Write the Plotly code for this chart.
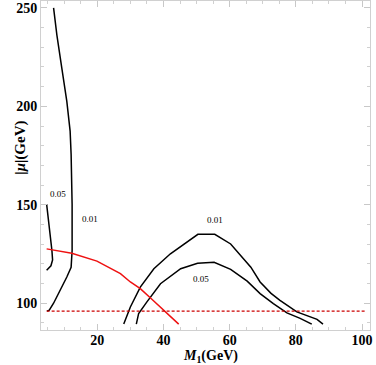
import plotly.graph_objects as go

# Contour 0.01 (left branch)
c01_left_x = [6.8, 7.8, 9.3, 10.8, 11.8, 12.1, 12.4, 12.4, 12.1, 10.8, 6.8, 5.5, 4.8]
c01_left_y = [250, 236.2, 219.3, 202.5, 187.4, 175.6, 150.3, 126.8, 118.2, 113.3, 100, 96.5, 96.0]

# Contour 0.05 (left branch)
c05_left_x = [4.7, 5.6, 6.3, 6.5, 6.0, 4.7]
c05_left_y = [150.3, 138, 126.8, 122, 119, 116.7]

# Contour 0.01 (right branch)
c01_right_x = [28.0, 30.0, 33.0, 37.1, 42.1, 47.2, 50.4, 55.5, 60.3, 66.4, 69.2, 72.5, 75.2, 80.3, 86.4, 88.2]
c01_right_y = [89.4, 98.1, 108.2, 117.5, 125.1, 131.0, 135.0, 135.0, 130.1, 118.3, 110.8, 105.0, 101.5, 95.6, 91.8, 89.4]

# Contour 0.05 (right branch)
c05_right_x = [31.8, 32.5, 35.0, 39.1, 45.2, 50.3, 55.3, 60.3, 65.3, 69.2, 73.2, 77.3, 81.3, 84.8]
c05_right_y = [89.4, 94.8, 100.7, 109.9, 117.5, 120.3, 120.8, 117.2, 111.2, 104.9, 99.8, 95.1, 92.3, 89.4]

# Red solid curve
red_x = [4.7, 6.8, 12.3, 19.9, 24.9, 27.0, 30.0, 33.0, 36.5, 40.1, 44.6]
red_y = [127.6, 127.1, 125.4, 121.4, 116.7, 115.0, 110.8, 107.4, 102.0, 96.5, 89.4]

# Red dashed bound
bound_x = [4.7, 100.8]
bound_y = [96.0, 96.0]

# Contour labels
label_text = ["0.05", "0.01", "0.01", "0.05"]
label_x = [8.1, 17.9, 55.5, 51.4]
label_y = [155.7, 142.8, 142.4, 112.1]

x_ticks = [20, 40, 60, 80, 100]
y_ticks = [100, 150, 200, 250]

FONT = "Liberation Serif"

fig = go.Figure()
for xs, ys in [(c01_left_x, c01_left_y), (c05_left_x, c05_left_y),
               (c01_right_x, c01_right_y), (c05_right_x, c05_right_y)]:
    fig.add_trace(go.Scatter(x=xs, y=ys, mode="lines",
                             line=dict(color="black", width=1.5), showlegend=False))
fig.add_trace(go.Scatter(x=red_x, y=red_y, mode="lines",
                         line=dict(color="#ee1111", width=1.5), showlegend=False))
fig.add_trace(go.Scatter(x=bound_x, y=bound_y, mode="lines",
                         line=dict(color="#cc0000", width=1.2, dash="3px,2px"), showlegend=False))

for t, x, y in zip(label_text, label_x, label_y):
    fig.add_annotation(x=x, y=y, text=t, showarrow=False,
                       font=dict(family=FONT, size=9, color="black"))

fig.add_annotation(xref="paper", yref="paper", x=0.515, y=-0.082, yanchor="middle",
                   text="<i>M</i><sub>1</sub>(GeV)", showarrow=False,
                   font=dict(family=FONT, size=14, color="black", weight="bold"))
fig.add_annotation(xref="paper", yref="paper", x=-0.095, y=0.555,
                   text="|<i>μ</i>|(GeV)", textangle=-90, showarrow=False,
                   font=dict(family=FONT, size=15, color="black", weight="bold"))

axis_common = dict(showgrid=False, zeroline=False, showline=True, linecolor="#d0d0d0",
                   linewidth=1, mirror="ticks", ticks="inside", ticklen=6, tickcolor="#c8c8c8",
                   tickfont=dict(family=FONT, size=14, color="black", weight="bold"))

fig.update_xaxes(range=[3.0, 102.4], tickvals=x_ticks, ticktext=[str(v) for v in x_ticks],
                 ticklabelstandoff=-3,
                 minor=dict(dtick=5, tick0=0, ticks="inside", ticklen=3, tickcolor="#d0d0d0"),
                 **axis_common)
fig.update_yaxes(range=[86.4, 253.5], tickvals=y_ticks, ticktext=[str(v) for v in y_ticks],
                 minor=dict(dtick=10, tick0=0, ticks="inside", ticklen=3, tickcolor="#d0d0d0"),
                 **axis_common)

fig.update_layout(width=376, height=365, margin=dict(l=41, r=6, t=1, b=35),
                  plot_bgcolor="white", paper_bgcolor="white", showlegend=False)

fig.write_html("out.html", config={"displayModeBar": False},
               post_script="document.body.style.margin='0';")
